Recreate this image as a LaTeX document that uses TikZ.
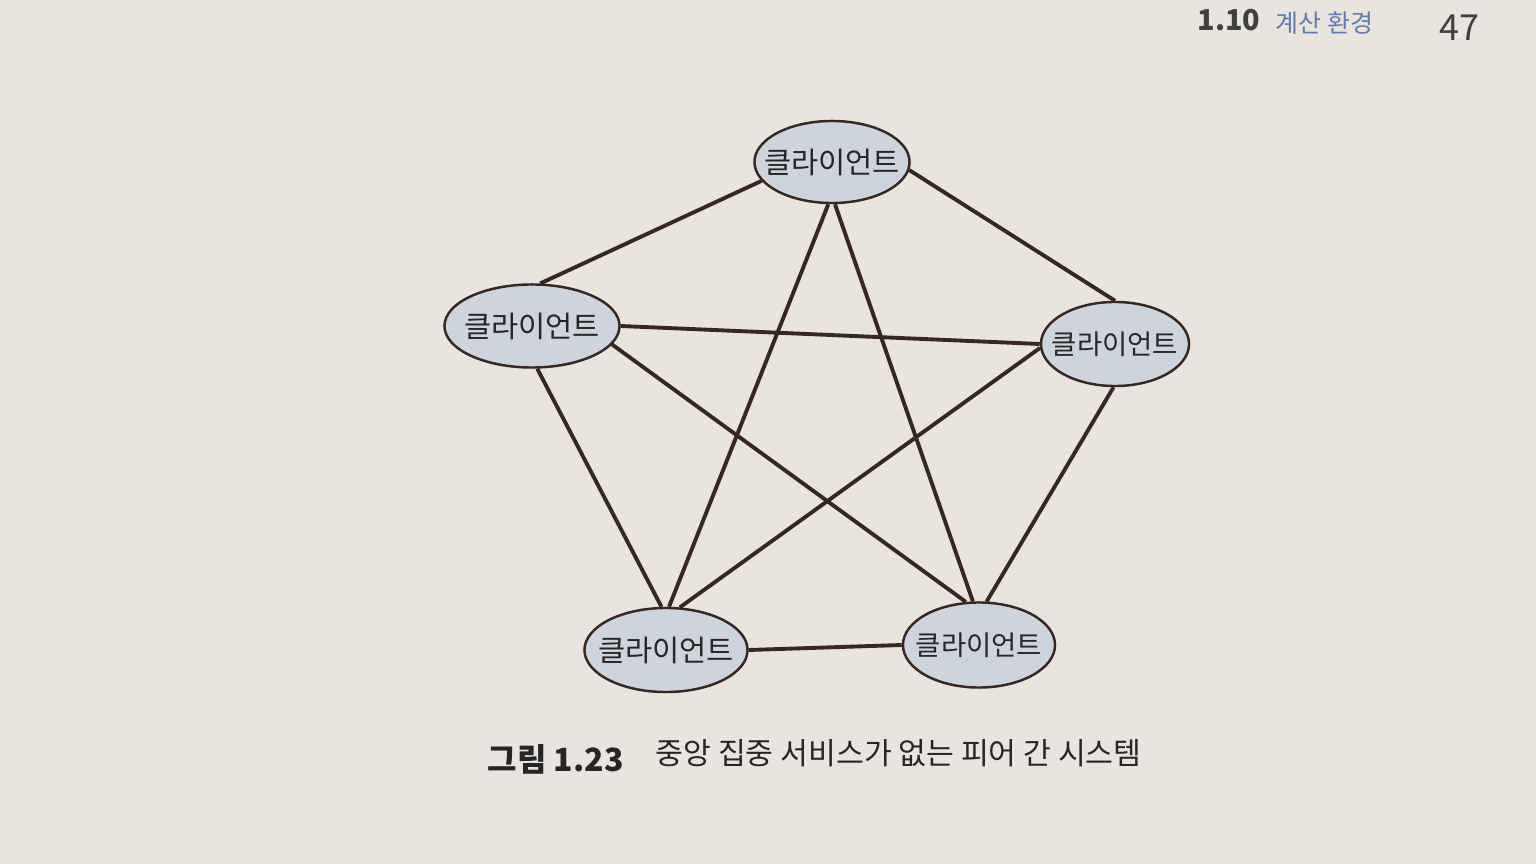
\documentclass[tikz,border=0pt]{standalone}
\usepackage{fontspec}
\setmainfont{Noto Sans CJK KR}
\newfontfamily\kr{Noto Sans CJK KR}
\usetikzlibrary{shapes.geometric}
\definecolor{paper}{RGB}{233,228,221}
\definecolor{cellfill}{RGB}{206,212,222}
\definecolor{ink}{RGB}{55,38,34}
\definecolor{headblue}{RGB}{95,125,175}
\tikzset{
  client/.style={ellipse, draw=ink, line width=0.7pt, fill=cellfill, minimum width=1.55cm, minimum height=0.82cm, inner xsep=-0.3cm, inner ysep=0pt, font=\kr\fontsize{8.4}{9}\selectfont, text=black!85},
  smalltext/.style={font=\kr\fontsize{7.8}{9}\selectfont},
  link/.style={draw=ink, line width=1.1pt},
}
\begin{document}
\begin{tikzpicture}[x=0.01cm, y=-0.01cm]
\fill[paper] (0,0) rectangle (1536,864);
\useasboundingbox (0,0) rectangle (1536,864);
% header
\node[anchor=base west, inner sep=0pt, font=\kr\bfseries\fontsize{8.2}{9}\selectfont, text=black!75] (hnum) at (1197,31) {1.10};
\node[anchor=base west, inner sep=0pt, font=\kr\fontsize{7.1}{9}\selectfont, text=headblue] (htitle) at (1275,33) {계산 환경};
\node[anchor=base west, inner sep=0pt, font=\kr\fontsize{10.2}{11}\selectfont, text=black!75] (hpage) at (1439,41) {47};
% nodes
\node[client] (T) at (832,162) {클라이언트};
\node[client, minimum width=1.75cm, minimum height=0.83cm] (L) at (532,326) {클라이언트};
\node[client, smalltext, minimum width=1.48cm, minimum height=0.84cm] (R) at (1115,344) {클라이언트};
\node[client, minimum width=1.63cm, minimum height=0.84cm] (BL) at (666,650) {클라이언트};
\node[client, smalltext, minimum width=1.52cm, minimum height=0.85cm] (BR) at (979,645) {클라이언트};
% links (complete graph)
\draw[link] (T.195) -- (L.79);
\draw[link] (T.354) -- (R.90);
\draw[link] (T.265) -- (BL.86);
\draw[link] (T.274) -- (BR.98);
\draw[link] (L.0) -- (R.180);
\draw[link] (L.347) -- (BR.107);
\draw[link] (L.277) -- (BL.96);
\draw[link] (R.183) -- (BL.72);
\draw[link] (R.268) -- (BR.80);
\draw[link] (BL.0) -- (BR.180);
% caption
\node[anchor=base west, inner sep=0pt, font=\kr\bfseries\fontsize{9.1}{10}\selectfont, text=black!85] (cnum) at (487,771) {그림 1.23};
\node[anchor=base west, inner sep=0pt, font=\kr\fontsize{8.6}{10}\selectfont, text=black!85] (ctext) at (655,764) {중앙 집중 서비스가 없는 피어 간 시스템};
\end{tikzpicture}
\end{document}
